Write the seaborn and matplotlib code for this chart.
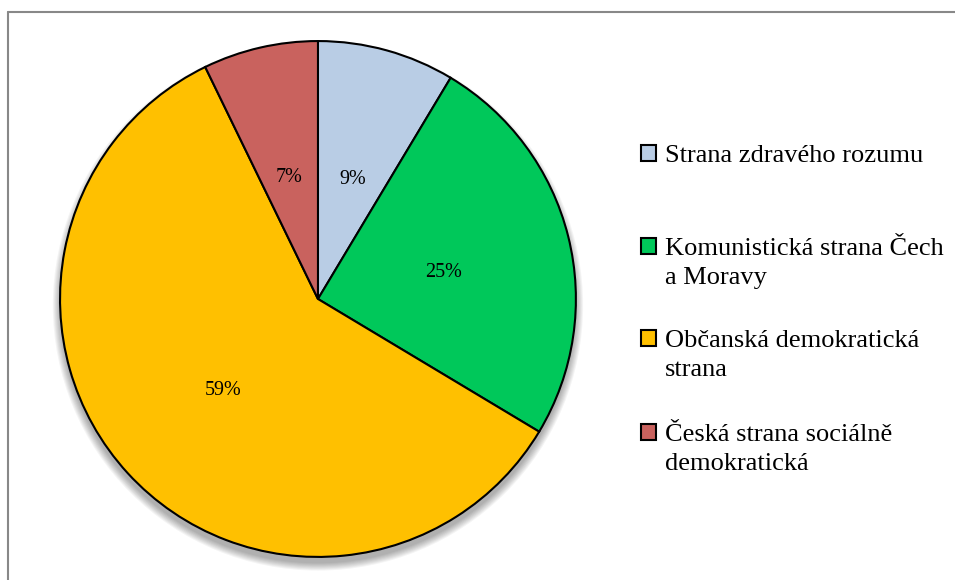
import matplotlib.pyplot as plt
import seaborn as sns
from matplotlib.lines import Line2D
from matplotlib.patches import Circle

parties = [
    "Strana zdravého rozumu",
    "Komunistická strana Čech\na Moravy",
    "Občanská demokratická\nstrana",
    "Česká strana sociálně\ndemokratická",
]
shares = [8.6, 25.0, 59.2, 7.2]
colors = ["#B9CDE5", "#00C85A", "#FFC000", "#C9625E"]

sns.set_theme(style="white")
plt.rcParams["font.family"] = ["Liberation Serif", "DejaVu Serif"]

W, H = 955, 580
fig = plt.figure(figsize=(W / 100, H / 100), dpi=100)
ax = fig.add_axes([0.0607, 0.0362, 0.5445, 0.8966])

# soft shadow under the pie
for i in range(8):
    ax.add_patch(Circle((0, -0.025), 1.0 + 0.004 * i, color="black",
                        alpha=0.045, lw=0, zorder=0, clip_on=False))

wedges, texts, autotexts = ax.pie(
    shares,
    colors=colors,
    startangle=90,
    counterclock=False,
    autopct=lambda p: f"{p:.0f}%",
    pctdistance=0.5,
    wedgeprops={"edgecolor": "black", "linewidth": 1.5, "zorder": 2},
    textprops={"fontsize": 14.5, "color": "black"},
)
for t in autotexts:
    t.set_zorder(3)
    x, y = t.get_position()
    t.set_position((x, y - 0.018))
ax.set_aspect("equal")
ax.set_xlim(-1.008, 1.008)
ax.set_ylim(-1.008, 1.008)
ax.axis("off")

# legend: one entry per block, marker aligned with the first text line
first_line_y = [156, 249, 341, 435]  # px from top
line_step = 29
fig.canvas.draw()
renderer = fig.canvas.get_renderer()
for wedge, label, y in zip(wedges, parties, first_line_y):
    first, *rest = label.split("\n")
    leg = fig.legend(
        [wedge], [first],
        loc="center left", bbox_to_anchor=(641 / W, 1 - y / H),
        frameon=False, fontsize=19, borderpad=0, borderaxespad=0,
        handlelength=0.55, handleheight=0.55, handletextpad=0.35,
        labelcolor="black",
    )
    h = leg.legend_handles[0]
    h.set_linewidth(1.5)
    h.set_edgecolor("black")
    fig.canvas.draw()
    x0 = leg.get_texts()[0].get_window_extent(renderer).x0
    for k, line in enumerate(rest, start=1):
        fig.text(x0 / W, 1 - (y + k * line_step) / H, line,
                 va="center", ha="left", fontsize=19, color="black")

# chart frame (only top and left visible in the crop)
fig.add_artist(Line2D([0.008, 1.0], [0.979, 0.979], color="#888888", lw=1.5))
fig.add_artist(Line2D([0.008, 0.008], [0.0, 0.979], color="#888888", lw=1.5))

fig.savefig("out.png", dpi=100)
